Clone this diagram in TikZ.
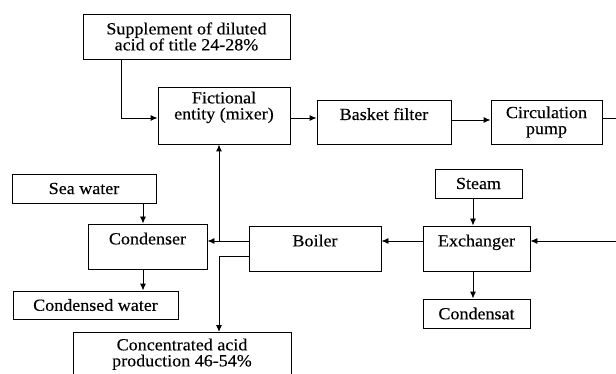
\documentclass[tikz,border=0pt]{standalone}
\usepackage{fontspec}
\setmainfont{Liberation Serif}[FakeStretch=1.06,FakeBold=0.3]
\usetikzlibrary{positioning}
\usetikzlibrary{calc}
\usetikzlibrary{arrows.meta}
\tikzset{
  blk/.style={draw, line width=0.9pt, inner sep=0pt, align=center, font=\fontsize{17}{16}\selectfont},
  flow/.style={line width=0.9pt, -{Latex[length=7pt,width=6pt]}},
}
\begin{document}
\begin{tikzpicture}[x=1pt,y=-1pt]
		% Frame of the picture
		\clip (0,0) rectangle (616,374);
		% Draw boxes
		\node[blk, minimum width=207pt, minimum height=45pt] (sup) at (186.5,36.5) {Supplement of diluted\\acid of title 24-28\%};
		\node[blk, minimum width=132pt, minimum height=57pt] (mix) at (224,115.5) {Fictional\\entity (mixer)\\[4pt]};
		\node[blk, minimum width=134pt, minimum height=44pt] (bask) at (384,122) {Basket filter\\\mbox{}};
		\node[blk, minimum width=111pt, minimum height=44pt] (pump) at (546.5,122) {Circulation\\pump};
		\node[blk, minimum width=87pt, minimum height=29pt] (steam) at (478.5,183.5) {Steam};
		\node[blk, minimum width=107pt, minimum height=45pt] (exch) at (476.5,248.5) {Exchanger\\\mbox{}};
		\node[blk, minimum width=107pt, minimum height=29pt] (cond) at (476.5,313.5) {Condensat};
		\node[blk, minimum width=132pt, minimum height=45pt] (boil) at (315,248.5) {Boiler\\\mbox{}};
		\node[blk, minimum width=119pt, minimum height=45pt] (cdsr) at (147.5,246.5) {Condenser\\\mbox{}};
		\node[blk, minimum width=144pt, minimum height=29pt] (sea) at (84,188.5) {Sea water};
		\node[blk, minimum width=165pt, minimum height=28pt] (cw) at (95.5,305) {Condensed water};
		\node[blk, minimum width=218pt, minimum height=58pt, anchor=north] (conc) at (182,332) {Concentrated acid\\production 46-54\%\\[2pt]};
		% Free ends on the right
		\coordinate (outr) at (620,118);
		\coordinate (inr) at (620,241);
		% Top line
		\draw[flow] (121,0 |- sup.south) |- ([yshift=-2.5pt]mix.west);
		\draw[flow] ([yshift=-2.5pt]mix.east) -- ([yshift=-2.5pt]mix.east -| bask.west);
		\draw[flow] ([yshift=2pt]bask.east) -- ([yshift=2pt]bask.east -| pump.west);
		\draw[line width=0.9pt] ([yshift=4pt]pump.east) -- (outr);
		% Exchanger and steam
		\draw[flow] (inr) -- (inr -| exch.east);
		\draw[flow] (473,0 |- steam.south) -- (473,0 |- exch.north);
		\draw[flow] (473,0 |- exch.south) -- (473,0 |- cond.north);
		\draw[flow] (inr -| exch.west) -- (inr -| boil.east);
		% Boiler outlets
		\draw[flow] (inr -| boil.west) -- (inr -| cdsr.east);
		\draw[flow] ([yshift=7.5pt]boil.west) -| (219,0 |- mix.south);
		\draw[flow] ([yshift=-7.5pt]boil.west) -| (219,0 |- conc.north);
		% Condenser
		\draw[flow] (143,0 |- sea.south) -- (143,0 |- cdsr.north);
		\draw[flow] (143,0 |- cdsr.south) -- (143,0 |- cw.north);
	\end{tikzpicture}
\end{document}
